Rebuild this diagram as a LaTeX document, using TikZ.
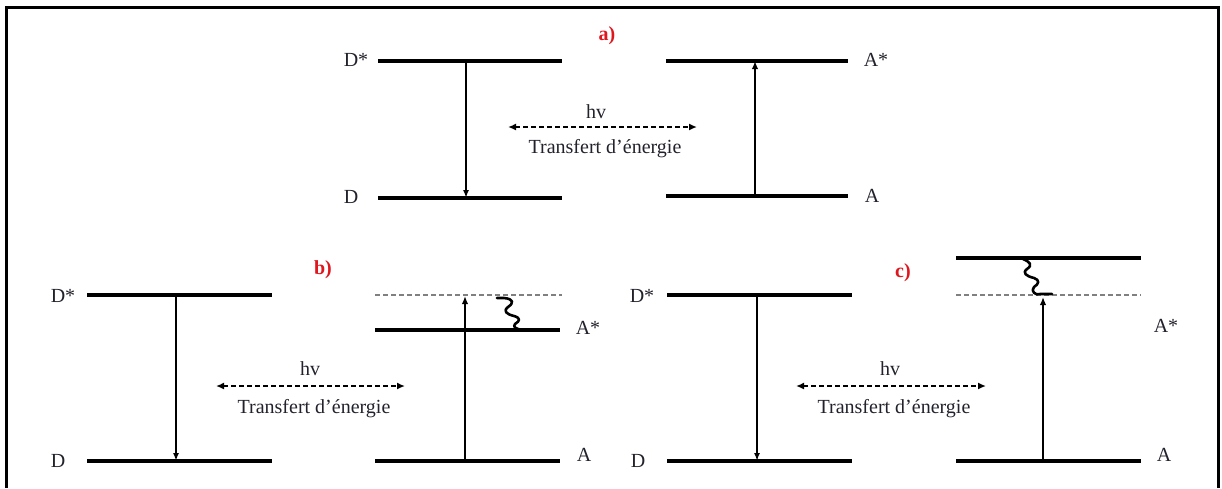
\documentclass[tikz,border=0pt]{standalone}
\usepackage{fontspec}
\setmainfont{Liberation Serif}
\usetikzlibrary{arrows.meta}
\definecolor{txt}{HTML}{22222C}
\definecolor{lblred}{HTML}{E0161E}
\tikzset{
  level/.style={line width=3.8pt},
  virt/.style={line width=1.3pt, gray, dash pattern=on 5pt off 3pt},
  trans/.style={line width=2.2pt, -{Latex[length=8pt,width=6pt]}},
  transup/.style={line width=2.8pt, -{Latex[length=8pt,width=6.5pt]}},
  energy/.style={line width=2pt, dash pattern=on 5pt off 3pt, {Latex[length=8pt,width=7pt]}-{Latex[length=8pt,width=7pt]}},
  wavy/.style={line width=2.6pt, line join=round, line cap=round},
  lbl/.style={font=\fontsize{20}{23}\selectfont, text=txt, inner sep=0pt},
  tag/.style={font=\fontsize{20}{22}\selectfont\bfseries, text=lblred, inner sep=0pt},
}
\begin{document}
\begin{tikzpicture}[x=1pt,y=-1pt]
\useasboundingbox (0,0) rectangle (1222,488);
% frame
\draw[line width=3pt] (6,488) -- (6,7) -- (1218,7) -- (1218,488);

% ---------- panel a ----------
\node[tag] (ta) at (607,36) {a)};
\coordinate (aDsL) at (378,61);  \coordinate (aDsR) at (562,61);
\coordinate (aDL)  at (378,198); \coordinate (aDR)  at (562,198);
\coordinate (aAsL) at (666,61);  \coordinate (aAsR) at (848,61);
\coordinate (aAL)  at (666,196); \coordinate (aAR)  at (848,196);
\draw[level] (aDsL) -- (aDsR);
\draw[level] (aDL) -- (aDR);
\draw[level] (aAsL) -- (aAsR);
\draw[level] (aAL) -- (aAR);
\node[lbl] (laDs) at (356,60) {D*};
\node[lbl] (laD)  at (351,197) {D};
\node[lbl] (laAs) at (876,60) {A*};
\node[lbl] (laA)  at (872,196) {A};
\coordinate (aDd1) at (466,61); \coordinate (aDd2) at (466,198);
\draw[trans] (aDd1) -- (aDd2);
\coordinate (aAu1) at (755,196); \coordinate (aAu2) at (755,61);
\draw[transup] (aAu1) -- (aAu2);
\coordinate (aE1) at (508,127); \coordinate (aE2) at (697,127);
\draw[energy] (aE1) -- (aE2);
\node[lbl] (ahv) at (596,112) {hv};
\node[lbl] (atr) at (605,149) {Transfert d’énergie};

% ---------- panel b ----------
\node[tag] (tb) at (323,270) {b)};
\coordinate (bDsL) at (87,295);  \coordinate (bDsR) at (272,295);
\coordinate (bDL)  at (87,461);  \coordinate (bDR)  at (272,461);
\coordinate (bVL)  at (375,295); \coordinate (bVR)  at (562,295);
\coordinate (bAsL) at (375,330); \coordinate (bAsR) at (560,330);
\coordinate (bAL)  at (375,461); \coordinate (bAR)  at (560,461);
\draw[level] (bDsL) -- (bDsR);
\draw[level] (bDL) -- (bDR);
\draw[virt]  (bVL) -- (bVR);
\draw[level] (bAsL) -- (bAsR);
\draw[level] (bAL) -- (bAR);
\node[lbl] (lbDs) at (63,296) {D*};
\node[lbl] (lbD)  at (58,461) {D};
\node[lbl] (lbAs) at (588,328) {A*};
\node[lbl] (lbA)  at (584,455) {A};
\coordinate (bDd1) at (176,295); \coordinate (bDd2) at (176,461);
\draw[trans] (bDd1) -- (bDd2);
\coordinate (bAu1) at (465,461); \coordinate (bAu2) at (465,296);
\draw[transup] (bAu1) -- (bAu2);
\coordinate (bW1) at (497,298); \coordinate (bW2) at (525,330);
\draw[wavy] (bW1) -- (504,298) .. controls (514,299) and (514,303) .. (508,307)
  .. controls (503,311) and (506,314) .. (514,316)
  .. controls (521,318) and (520,321) .. (515,324)
  .. controls (512,327) and (517,330) .. (bW2);
\coordinate (bE1) at (216,386); \coordinate (bE2) at (405,386);
\draw[energy] (bE1) -- (bE2);
\node[lbl] (bhv) at (310,369) {hv};
\node[lbl] (btr) at (314,409) {Transfert d’énergie};

% ---------- panel c ----------
\node[tag] (tc) at (903,273) {c)};
\coordinate (cDsL) at (667,295); \coordinate (cDsR) at (852,295);
\coordinate (cDL)  at (667,461); \coordinate (cDR)  at (852,461);
\coordinate (cTL)  at (956,258); \coordinate (cTR)  at (1141,258);
\coordinate (cVL)  at (956,295); \coordinate (cVR)  at (1141,295);
\coordinate (cAL)  at (956,461); \coordinate (cAR)  at (1141,461);
\draw[level] (cDsL) -- (cDsR);
\draw[level] (cDL) -- (cDR);
\draw[level] (cTL) -- (cTR);
\draw[virt]  (cVL) -- (cVR);
\draw[level] (cAL) -- (cAR);
\node[lbl] (lcDs) at (642,296) {D*};
\node[lbl] (lcD)  at (638,461) {D};
\node[lbl] (lcAs) at (1166,326) {A*};
\node[lbl] (lcA)  at (1164,455) {A};
\coordinate (cDd1) at (757,295); \coordinate (cDd2) at (757,461);
\draw[trans] (cDd1) -- (cDd2);
\coordinate (cAu1) at (1043,461); \coordinate (cAu2) at (1043,297);
\draw[transup] (cAu1) -- (cAu2);
\coordinate (cW1) at (1023,259); \coordinate (cW2) at (1052,294);
\draw[wavy] (cW1) .. controls (1030,262) and (1033,265) .. (1027,269)
  .. controls (1022,273) and (1026,276) .. (1034,278)
  .. controls (1040,280) and (1039,284) .. (1034,287)
  .. controls (1030,291) and (1036,296) .. (1040,294) -- (cW2);
\coordinate (cE1) at (796,386); \coordinate (cE2) at (986,386);
\draw[energy] (cE1) -- (cE2);
\node[lbl] (chv) at (890,369) {hv};
\node[lbl] (ctr) at (894,409) {Transfert d’énergie};
\end{tikzpicture}
\end{document}
